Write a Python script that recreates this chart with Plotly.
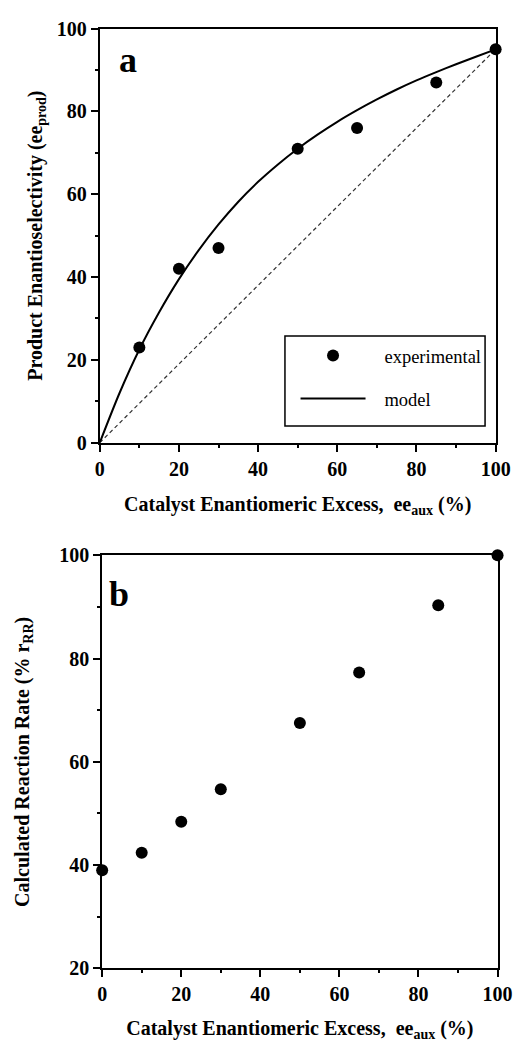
import plotly.graph_objects as go

# ---------------- data ----------------
# Panel a: product enantioselectivity vs catalyst ee
exp_a_x = [10, 20, 30, 50, 65, 85, 100]
exp_a_y = [23, 42, 47, 71, 76, 87, 95]

model_x = [0, 5, 10, 15, 20, 25, 30, 35, 40, 45, 50, 55, 60, 65, 70, 75, 80, 85, 90, 95, 100]
model_y = [0, 12, 22.5, 31.5, 39.5, 46.5, 52.7, 58.2, 63, 67.2, 71, 74.4, 77.5, 80.3,
           82.9, 85.3, 87.5, 89.5, 91.4, 93.2, 95]

diag_x = [0, 100]
diag_y = [0, 95]

# Panel b: calculated reaction rate vs catalyst ee
rate_x = [0, 10, 20, 30, 50, 65, 85, 100]
rate_y = [39, 42.4, 48.4, 54.7, 67.5, 77.3, 90.3, 100]

x_ticks = [0, 20, 40, 60, 80, 100]
ya_ticks = [0, 20, 40, 60, 80, 100]
yb_ticks = [20, 40, 60, 80, 100]

# ---------------- figure ----------------
W, H = 527, 1042
SERIF = "Liberation Serif"


def fx(p):
    return p / W


def fy(p):
    return 1 - p / H


fig = go.Figure()

fig.add_trace(go.Scatter(
    x=diag_x, y=diag_y, mode="lines", showlegend=False, hoverinfo="skip",
    line=dict(color="#333333", width=1.2, dash="4px,3px"),
    xaxis="x", yaxis="y"))

fig.add_trace(go.Scatter(
    x=exp_a_x, y=exp_a_y, mode="markers", name="   experimental",
    marker=dict(color="black", size=12), cliponaxis=False,
    legendgroup="g1", xaxis="x", yaxis="y"))

fig.add_trace(go.Scatter(
    x=model_x, y=model_y, mode="lines", name="   model",
    line=dict(color="black", width=2, shape="spline", smoothing=0.8),
    legendgroup="g2", xaxis="x", yaxis="y"))

fig.add_trace(go.Scatter(
    x=rate_x, y=rate_y, mode="markers", showlegend=False,
    marker=dict(color="black", size=12), cliponaxis=False,
    xaxis="x2", yaxis="y2"))

tickfont = dict(family=SERIF, size=20, color="black", weight="bold")
titlefont = dict(family=SERIF, size=20, color="black", weight="bold")

common = dict(
    showline=True, linecolor="black", linewidth=2, mirror=True,
    ticks="outside", ticklen=7, tickwidth=2, tickcolor="black",
    showgrid=False, zeroline=False, tickfont=tickfont,
    minor=dict(ticks="outside", ticklen=3, tickwidth=1.5, dtick=10,
               tickcolor="black", showgrid=False),
)

fig.update_layout(
    width=W, height=H,
    margin=dict(l=0, r=0, t=0, b=0),
    paper_bgcolor="white", plot_bgcolor="white",
    font=dict(family=SERIF, color="black"),
    xaxis=dict(common, domain=[fx(98.5), fx(510)], range=[0, 100],
               tickvals=x_ticks, anchor="y",
               title=dict(text="Catalyst Enantiomeric Excess,  ee<sub>aux</sub> (%)",
                          font=titlefont, standoff=18)),
    yaxis=dict(common, domain=[fy(441), fy(18)], range=[0, 100],
               tickvals=ya_ticks, anchor="x",
               title=dict(text="Product Enantioselectivity (ee<sub>prod</sub>)",
                          font=titlefont, standoff=9)),
    xaxis2=dict(common, domain=[fx(101), fx(512)], range=[0, 100],
                tickvals=x_ticks, anchor="y2",
                title=dict(text="Catalyst Enantiomeric Excess,  ee<sub>aux</sub> (%)",
                           font=titlefont, standoff=18)),
    yaxis2=dict(common, domain=[fy(978), fy(556)], range=[20, 100],
                tickvals=yb_ticks, anchor="x2",
                title=dict(text="Calculated Reaction Rate (% r<sub>RR</sub>)",
                           font=titlefont, standoff=24)),
    legend=dict(x=fx(302), y=fy(333), xanchor="left", yanchor="top",
                borderwidth=0, bgcolor="rgba(0,0,0,0)",
                font=dict(family=SERIF, size=18.5, color="black"),
                itemwidth=65, traceorder="grouped", tracegroupgap=16),
    shapes=[
        dict(type="rect", xref="paper", yref="paper",
             x0=fx(291), x1=fx(499), y0=fy(424), y1=fy(332),
             line=dict(color="black", width=1.5), fillcolor="rgba(0,0,0,0)"),
    ],
    annotations=[
        dict(text="<b>a</b>", xref="paper", yref="paper", x=fx(116), y=fy(50),
             xanchor="left", yanchor="middle", showarrow=False,
             font=dict(family=SERIF, size=36, color="black")),
        dict(text="<b>b</b>", xref="paper", yref="paper", x=fx(106), y=fy(596),
             xanchor="left", yanchor="middle", showarrow=False,
             font=dict(family=SERIF, size=36, color="black")),
    ],
)

fig.write_html("out.html", config={"displayModeBar": False},
               post_script="document.body.style.margin='0';")
